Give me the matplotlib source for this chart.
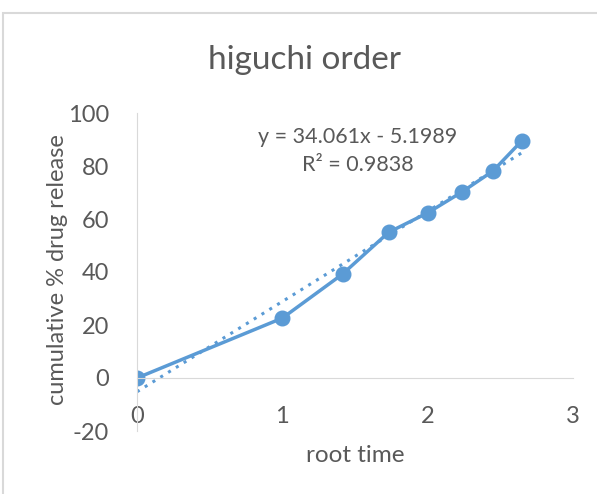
import matplotlib.pyplot as plt
import numpy as np
from matplotlib.patches import Rectangle

# higuchi data: root time vs cumulative % drug release
root_time = [0, 1, 1.414, 1.732, 2, 2.236, 2.449, 2.646]
release = [0, 22.6, 39.2, 55.0, 62.3, 70.2, 78.1, 89.4]
slope = 34.061
intercept = -5.1989
r_squared = 0.9838
x_ticks = [0, 1, 2, 3]
y_ticks = [-20, 0, 20, 40, 60, 80, 100]

blue = "#5B9BD5"
grey_text = "#595959"
plt.rcParams['font.family'] = ['Lato', 'DejaVu Sans']
plt.rcParams['axes.unicode_minus'] = False

fig = plt.figure(figsize=(5.97, 4.94), dpi=100)
# chart area border (only top and left show in the picture)
fig.patches.append(Rectangle((3 / 597, -0.1), 1.2, 1 - 13 / 494 + 0.1, transform=fig.transFigure,
                             fill=False, edgecolor="#D9D9D9", linewidth=1.5))

ax = fig.add_axes([137 / 597, 1 - 431 / 494, 436 / 597, 318 / 494])

# trendline
xfit = np.array([root_time[0], root_time[-1]])
ax.plot(xfit, slope * xfit + intercept, linestyle=(0, (1, 2)), color=blue, linewidth=2.2)
ax.plot(root_time, release, color=blue, linewidth=2.5, marker="o", markersize=10.5)

ax.set_xlim(0, 3)
ax.set_ylim(-20, 100)
ax.set_xticks(x_ticks)
ax.set_yticks(y_ticks)
ax.tick_params(length=0, labelsize=17, colors=grey_text)
ax.tick_params(axis="x", pad=20)
ax.tick_params(axis="y", pad=20)

for s in ["top", "right"]:
    ax.spines[s].set_visible(False)
ax.spines["left"].set_color("#D9D9D9")
ax.spines["bottom"].set_color("#D9D9D9")
ax.spines["bottom"].set_position(("data", 0))

fig.text(358 / 597, 1 - 151 / 494, f"y = {slope}x - {-intercept}\nR² = {r_squared}",
         ha="center", va="center", fontsize=15.5, color=grey_text, linespacing=1.5)

fig.text(305 / 597, 1 - 60 / 494, "higuchi order", ha="center", va="center", fontsize=24, color=grey_text)
fig.text(355 / 597, 1 - 455 / 494, "root time", ha="center", va="center", fontsize=17.5, color=grey_text)
fig.text(57 / 597, 1 - 270 / 494, "cumulative % drug release", ha="center", va="center",
         rotation=90, fontsize=17, color=grey_text)

fig.savefig("out.png")
